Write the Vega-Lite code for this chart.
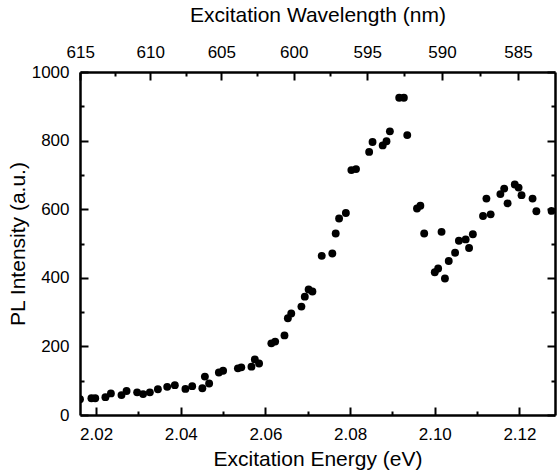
{
  "$schema": "https://vega.github.io/schema/vega-lite/v6.json",
  "width": 475,
  "height": 343,
  "autosize": {"type": "none"},
  "padding": {"left": 80, "top": 72, "right": 2, "bottom": 58},
  "background": "white",
  "config": {
    "view": {"stroke": null},
    "font": "Liberation Sans",
    "axis": {
      "grid": false,
      "domainColor": "black",
      "domainWidth": 2.5,
      "tickColor": "black",
      "tickWidth": 2,
      "labelColor": "black",
      "titleColor": "black",
      "labelFont": "Liberation Sans",
      "titleFont": "Liberation Sans",
      "labelFontSize": 17,
      "titleFontSize": 21,
      "titleFontWeight": "normal",
      "labelOverlap": false,
      "labelFlush": false,
      "labelBound": false
    }
  },
  "data": {
    "values": [
      {"E": 2.0162, "I": 46}, {"E": 2.0189, "I": 49}, {"E": 2.0198, "I": 49}, {"E": 2.0222, "I": 52},
      {"E": 2.0235, "I": 63}, {"E": 2.0260, "I": 58}, {"E": 2.0272, "I": 70}, {"E": 2.0297, "I": 66},
      {"E": 2.0311, "I": 61}, {"E": 2.0327, "I": 66}, {"E": 2.0346, "I": 75}, {"E": 2.0368, "I": 82},
      {"E": 2.0386, "I": 87}, {"E": 2.0411, "I": 76}, {"E": 2.0427, "I": 84}, {"E": 2.0451, "I": 78},
      {"E": 2.0457, "I": 112}, {"E": 2.0467, "I": 92}, {"E": 2.0490, "I": 124}, {"E": 2.0500, "I": 129},
      {"E": 2.0535, "I": 136}, {"E": 2.0543, "I": 139}, {"E": 2.0567, "I": 141}, {"E": 2.0575, "I": 162},
      {"E": 2.0585, "I": 150}, {"E": 2.0614, "I": 209}, {"E": 2.0623, "I": 214}, {"E": 2.0645, "I": 232},
      {"E": 2.0653, "I": 282}, {"E": 2.0661, "I": 296}, {"E": 2.0685, "I": 316}, {"E": 2.0693, "I": 345},
      {"E": 2.0702, "I": 366}, {"E": 2.0711, "I": 360}, {"E": 2.0733, "I": 464}, {"E": 2.0758, "I": 471},
      {"E": 2.0766, "I": 529}, {"E": 2.0774, "I": 573}, {"E": 2.0790, "I": 589}, {"E": 2.0803, "I": 714},
      {"E": 2.0814, "I": 717}, {"E": 2.0845, "I": 767}, {"E": 2.0853, "I": 796}, {"E": 2.0877, "I": 786},
      {"E": 2.0886, "I": 798}, {"E": 2.0894, "I": 827}, {"E": 2.0916, "I": 925}, {"E": 2.0927, "I": 925},
      {"E": 2.0935, "I": 816}, {"E": 2.0958, "I": 602}, {"E": 2.0966, "I": 610}, {"E": 2.0975, "I": 529},
      {"E": 2.1000, "I": 416}, {"E": 2.1008, "I": 427}, {"E": 2.1016, "I": 534}, {"E": 2.1024, "I": 398},
      {"E": 2.1033, "I": 449}, {"E": 2.1048, "I": 473}, {"E": 2.1057, "I": 508}, {"E": 2.1073, "I": 512},
      {"E": 2.1081, "I": 487}, {"E": 2.1090, "I": 527}, {"E": 2.1114, "I": 580}, {"E": 2.1122, "I": 631},
      {"E": 2.1132, "I": 585}, {"E": 2.1155, "I": 644}, {"E": 2.1164, "I": 660}, {"E": 2.1172, "I": 617},
      {"E": 2.1189, "I": 672}, {"E": 2.1198, "I": 663}, {"E": 2.1205, "I": 641}, {"E": 2.1231, "I": 631},
      {"E": 2.1240, "I": 594}, {"E": 2.1276, "I": 595}
    ]
  },
  "layer": [
    {
      "mark": {"type": "point", "filled": true, "shape": "circle", "size": 62, "color": "black", "opacity": 1, "clip": true},
      "encoding": {
        "x": {
          "field": "E", "type": "quantitative",
          "scale": {"domain": [2.0162, 2.1284], "nice": false, "zero": false},
          "axis": {
            "orient": "bottom",
            "title": "Excitation Energy (eV)",
            "titlePadding": 2,
            "values": [2.02, 2.03, 2.04, 2.05, 2.06, 2.07, 2.08, 2.09, 2.10, 2.11, 2.12],
            "labelExpr": "round(datum.value*100) % 2 == 0 ? format(datum.value, '.2f') : ''",
            "tickSize": {"condition": {"test": "round(datum.value*100) % 2 == 0", "value": -8}, "value": -4},
            "labelPadding": 19
          }
        },
        "y": {
          "field": "I", "type": "quantitative",
          "scale": {"domain": [0, 1000], "nice": false},
          "axis": {
            "orient": "left",
            "title": "PL Intensity (a.u.)",
            "titlePadding": 3,
            "values": [0, 100, 200, 300, 400, 500, 600, 700, 800, 900, 1000],
            "labelExpr": "datum.value % 200 == 0 ? format(datum.value, 'd') : ''",
            "tickSize": {"condition": {"test": "datum.value % 200 == 0", "value": -8}, "value": -4},
            "labelPadding": 19
          }
        }
      }
    },
    {
      "mark": {"type": "point", "opacity": 0},
      "encoding": {
        "x": {
          "field": "E", "type": "quantitative",
          "axis": {
            "orient": "top",
            "title": "Excitation Wavelength (nm)",
            "titlePadding": 14,
            "values": [2.01626, 2.02449, 2.03279, 2.04115, 2.04959, 2.05809, 2.06667, 2.07531, 2.08403, 2.09283, 2.10169, 2.11064, 2.11966],
            "labelExpr": "round(1240/datum.value*2) % 10 == 0 ? format(round(1240/datum.value), 'd') : ''",
            "tickSize": {"condition": {"test": "round(1240/datum.value*2) % 10 == 0", "value": -8}, "value": -4},
            "labelPadding": 19
          }
        },
        "y": {
          "field": "I", "type": "quantitative",
          "axis": {
            "orient": "right",
            "title": null,
            "labels": false,
            "values": [0, 100, 200, 300, 400, 500, 600, 700, 800, 900, 1000],
            "tickSize": {"condition": {"test": "datum.value % 200 == 0", "value": -8}, "value": -4}
          }
        }
      }
    }
  ],
  "resolve": {"axis": {"x": "independent", "y": "independent"}}
}
